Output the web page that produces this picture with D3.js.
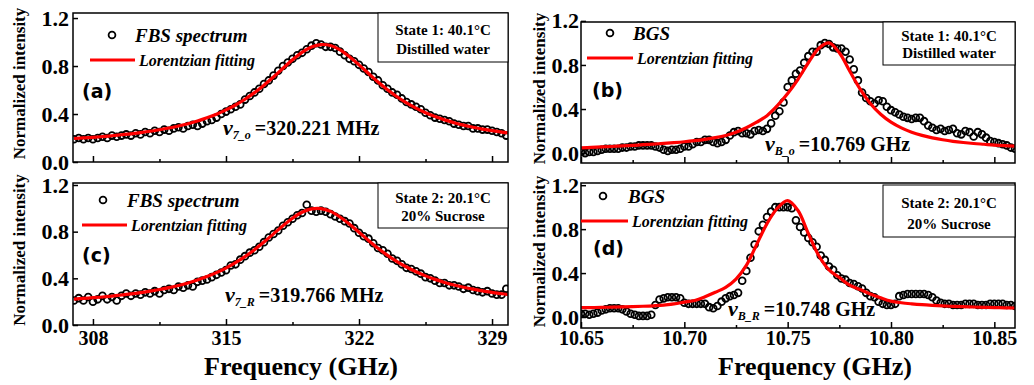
<!DOCTYPE html>
<html>
<head>
<meta charset="utf-8">
<script src="https://cdn.jsdelivr.net/npm/d3@7"></script>
<style>
  body { margin: 0; background: #fff; }
  svg text { font-family: "Liberation Serif", "Times New Roman", serif; font-weight: bold; fill: #000; }
  .tick line { stroke: #000; stroke-width: 1.5; }
</style>
</head>
<body>
<div id="chart"></div>
<script>
// ---- data ----
// FBS spectra: grid 307.00 .. 329.75 GHz, step 0.25
const fbsStart = 307, fbsStep = 0.25;
const fbsSpectrumA = [0.19,0.20,0.19,0.20,0.19,0.20,0.21,0.20,0.22,0.21,0.22,0.23,0.22,0.24,0.23,0.25,0.24,0.26,0.25,0.27,0.26,0.28,0.29,0.28,0.30,0.31,0.30,0.32,0.34,0.35,0.37,0.40,0.42,0.44,0.46,0.48,0.52,0.55,0.58,0.61,0.65,0.68,0.72,0.76,0.80,0.83,0.86,0.89,0.91,0.94,0.97,0.99,0.98,0.96,0.96,0.95,0.92,0.89,0.86,0.84,0.81,0.78,0.75,0.71,0.68,0.64,0.61,0.58,0.56,0.53,0.50,0.48,0.46,0.44,0.41,0.39,0.37,0.36,0.35,0.34,0.32,0.31,0.30,0.30,0.28,0.28,0.27,0.27,0.26,0.25,0.24,0.22];
const fbsSpectrumC = [0.21,0.23,0.21,0.24,0.20,0.22,0.25,0.22,0.24,0.21,0.25,0.27,0.25,0.27,0.26,0.28,0.27,0.29,0.27,0.30,0.31,0.30,0.33,0.32,0.34,0.33,0.37,0.38,0.39,0.41,0.43,0.45,0.47,0.51,0.52,0.56,0.59,0.62,0.64,0.67,0.71,0.75,0.78,0.81,0.85,0.88,0.91,0.94,0.96,1.03,0.98,0.97,0.98,0.97,0.95,0.93,0.91,0.89,0.87,0.83,0.79,0.76,0.74,0.70,0.66,0.64,0.61,0.57,0.55,0.52,0.49,0.48,0.46,0.44,0.41,0.40,0.38,0.36,0.36,0.34,0.34,0.33,0.31,0.32,0.30,0.29,0.28,0.29,0.27,0.26,0.26,0.31];
// Lorentzian fitting curves (FBS): 307 .. 330 GHz, step 0.5
const fbsFitStart = 307, fbsFitStep = 0.5;
const fbsFitA = [0.196,0.201,0.206,0.212,0.219,0.227,0.235,0.245,0.256,0.269,0.283,0.300,0.319,0.341,0.368,0.398,0.434,0.475,0.523,0.578,0.640,0.709,0.781,0.852,0.914,0.959,0.979,0.971,0.935,0.878,0.810,0.738,0.667,0.602,0.544,0.493,0.449,0.411,0.379,0.351,0.328,0.307,0.290,0.274,0.261,0.249,0.239];
const fbsFitC = [0.222,0.228,0.234,0.240,0.248,0.257,0.266,0.277,0.290,0.304,0.320,0.339,0.360,0.386,0.415,0.449,0.488,0.534,0.586,0.645,0.711,0.781,0.851,0.915,0.966,0.995,0.998,0.974,0.926,0.864,0.795,0.725,0.658,0.597,0.544,0.497,0.456,0.421,0.391,0.365,0.343,0.324,0.307,0.292,0.280,0.268,0.258];

// BGS spectra: grid 10.650 .. 10.860 GHz, step 0.002
const bgsStart = 10.65, bgsStep = 0.002;
const bgsSpectrumB = [0.01,0.00,0.01,0.01,0.02,0.03,0.04,0.04,0.04,0.04,0.05,0.05,0.06,0.06,0.07,0.07,0.07,0.07,0.06,0.05,0.03,0.02,0.03,0.03,0.04,0.06,0.06,0.08,0.10,0.10,0.12,0.12,0.10,0.09,0.10,0.12,0.16,0.19,0.20,0.18,0.18,0.17,0.20,0.21,0.20,0.22,0.27,0.34,0.38,0.46,0.60,0.66,0.72,0.75,0.82,0.88,0.92,0.92,0.98,1.00,0.99,0.96,0.95,0.95,0.92,0.85,0.76,0.66,0.55,0.50,0.47,0.45,0.48,0.47,0.42,0.39,0.37,0.35,0.33,0.32,0.31,0.32,0.32,0.29,0.25,0.23,0.21,0.22,0.20,0.21,0.22,0.18,0.17,0.20,0.19,0.15,0.19,0.17,0.14,0.11,0.10,0.09,0.08,0.07,0.05,0.04];
const bgsSpectrumD = [0.03,0.03,0.02,0.03,0.04,0.06,0.07,0.08,0.08,0.08,0.07,0.05,0.03,0.02,0.01,0.01,0.01,0.02,0.11,0.16,0.17,0.18,0.18,0.18,0.17,0.13,0.12,0.12,0.12,0.12,0.12,0.09,0.08,0.10,0.14,0.17,0.19,0.20,0.22,0.33,0.42,0.54,0.66,0.78,0.84,0.91,0.96,1.00,1.00,1.00,1.00,0.99,0.88,0.82,0.77,0.72,0.68,0.64,0.56,0.52,0.46,0.43,0.38,0.35,0.34,0.31,0.30,0.28,0.26,0.22,0.19,0.18,0.14,0.12,0.11,0.11,0.12,0.19,0.20,0.21,0.21,0.21,0.21,0.21,0.20,0.18,0.15,0.13,0.12,0.12,0.11,0.11,0.11,0.12,0.12,0.12,0.11,0.11,0.11,0.12,0.12,0.12,0.12,0.11,0.11,0.10];
// Lorentzian fitting curves (BGS): 10.650 .. 10.860 GHz, step 0.005
const bgsFitStart = 10.65, bgsFitStep = 0.005;
const bgsFitB = [0.048,0.052,0.056,0.060,0.065,0.070,0.076,0.082,0.088,0.095,0.103,0.113,0.125,0.140,0.160,0.190,0.230,0.280,0.340,0.430,0.540,0.670,0.820,0.950,1.000,0.910,0.745,0.583,0.451,0.353,0.281,0.229,0.190,0.161,0.138,0.121,0.107,0.096,0.087,0.080,0.073,0.068,0.064];
const bgsFitD = [0.085,0.086,0.088,0.090,0.092,0.095,0.098,0.102,0.108,0.120,0.135,0.150,0.185,0.225,0.270,0.345,0.470,0.660,0.850,0.990,1.060,0.970,0.760,0.560,0.430,0.360,0.290,0.250,0.210,0.175,0.145,0.130,0.120,0.112,0.106,0.101,0.097,0.094,0.091,0.088,0.086,0.084,0.082];

// ticks and labels
const fbsTicks = [308, 315, 322, 329];
const fbsMinorTicks = [311.5, 318.5, 325.5];
const bgsTicks = [10.65, 10.70, 10.75, 10.80, 10.85];
const bgsMinorTicks = [10.675, 10.725, 10.775, 10.825];
const yTicks = [0, 0.4, 0.8, 1.2];
const panelLetters = ["(a)", "(b)", "(c)", "(d)"];
const spectrumNames = ["FBS spectrum", "BGS", "FBS spectrum", "BGS"];
const fitNames = ["Lorentzian fitting", "Lorentzian fitting", "Lorentzian fitting", "Lorentzian  fitting"];
const stateLines = [["State 1: 40.1°C", "Distilled water"], ["State 1: 40.1°C", "Distilled water"],
                    ["State 2: 20.1°C", "20% Sucrose"], ["State 2: 20.1°C", "20% Sucrose"]];
const peakSubs = ["7_o", "B_o", "7_R", "B_R"];
const peakValues = ["=320.221 MHz", "=10.769 GHz", "=319.766 MHz", "=10.748 GHz"];
const yTitle = "Normalized intensity";
const xTitle = "Frequency (GHz)";

// ---- layout ----
const W = 1034, H = 385;
const svg = d3.select("#chart").append("svg").attr("width", W).attr("height", H);

const panels = [
  { k: 0, obs: fbsSpectrumA, fit: fbsFitA, fbs: true,  l: 73,  r: 508,  t: 13,  b: 162, yDom: [0, 1.242],
    yt: 25, legY: 35, letter: [82, 98], box: [378, 13, 130, 49], ann: [223, 135], showX: false },
  { k: 1, obs: bgsSpectrumB, fit: bgsFitB, fbs: false, l: 581, r: 1015, t: 22,  b: 163, yDom: [-0.09, 1.19],
    yt: 545, legY: 33, letter: [592, 97], box: [883, 22, 132, 43], ann: [765, 151], showX: false },
  { k: 2, obs: fbsSpectrumC, fit: fbsFitC, fbs: true,  l: 73,  r: 508,  t: 183, b: 325, yDom: [0, 1.217],
    yt: 25, legY: 200, letter: [82, 262], box: [378, 183, 130, 45], ann: [225, 302], showX: true, pad: 6, xtx: 301 },
  { k: 3, obs: bgsSpectrumD, fit: bgsFitD, fbs: false, l: 581, r: 1015, t: 183, b: 328, yDom: [-0.1, 1.22],
    yt: 545, legY: 196, letter: [593, 255], box: [883, 185, 132, 52], ann: [728, 316], showX: true, pad: 3, xtx: 815 }
];

const legendX = [[112, 90, 135], [610, 587, 633], [103, 82, 127], [603, 581, 628]];

panels.forEach(p => {
  const g = svg.append("g");
  const x = d3.scaleLinear()
    .domain(p.fbs ? [306.95, 329.84] : [10.65, 10.86])
    .range([p.l, p.r]);
  const y = d3.scaleLinear().domain(p.yDom).range([p.b, p.t]);

  const clipId = "clip" + p.k;
  svg.append("clipPath").attr("id", clipId)
    .append("rect").attr("x", p.l).attr("y", p.t).attr("width", p.r - p.l).attr("height", p.b - p.t);

  const start = p.fbs ? fbsStart : bgsStart, step = p.fbs ? fbsStep : bgsStep;
  const pts = p.obs.map((v, i) => ({ f: start + i * step, v: v }));
  const fStart = p.fbs ? fbsFitStart : bgsFitStart, fStep = p.fbs ? fbsFitStep : bgsFitStep;
  const fitPts = p.fit.map((v, i) => ({ f: fStart + i * fStep, v: v }));

  const plot = g.append("g").attr("clip-path", "url(#" + clipId + ")");
  plot.selectAll("circle.obs")
    .data(pts)
    .enter().append("circle")
    .attr("class", "obs")
    .attr("cx", d => x(d.f))
    .attr("cy", d => y(d.v))
    .attr("r", 3.4)
    .attr("fill", "none")
    .attr("stroke", "#000")
    .attr("stroke-width", 1.8);

  const line = d3.line().x(d => x(d.f)).y(d => y(d.v)).curve(d3.curveCatmullRom);
  plot.append("path")
    .datum(fitPts)
    .attr("d", line)
    .attr("fill", "none")
    .attr("stroke", "#ff0000")
    .attr("stroke-width", 3.2);

  // axes (ticks inward)
  const major = p.fbs ? fbsTicks : bgsTicks;
  const minor = p.fbs ? fbsMinorTicks : bgsMinorTicks;
  const xAxis = d3.axisBottom(x).tickValues(major).tickSize(-6)
    .tickPadding(p.pad || 0)
    .tickFormat(p.showX ? (p.fbs ? d3.format("d") : d3.format(".2f")) : "");
  const xa = g.append("g").attr("transform", "translate(0," + p.b + ")").call(xAxis);
  xa.select(".domain").remove();
  xa.selectAll("text").attr("font-size", 20).style("font-family", '"Liberation Serif", serif');

  const xm = g.append("g").attr("transform", "translate(0," + p.b + ")")
    .call(d3.axisBottom(x).tickValues(minor).tickSize(-3).tickFormat(""));
  xm.select(".domain").remove();

  const yAxis = d3.axisLeft(y).tickValues(yTicks).tickSize(-5)
    .tickPadding(p.fbs ? 4 : 2).tickFormat(d3.format(".1f"));
  const ya = g.append("g").attr("transform", "translate(" + p.l + ",0)").call(yAxis);
  ya.select(".domain").remove();
  ya.selectAll("text").attr("font-size", 22).style("font-family", '"Liberation Serif", serif');

  // frame
  g.append("rect")
    .attr("x", p.l).attr("y", p.t)
    .attr("width", p.r - p.l).attr("height", p.b - p.t)
    .attr("fill", "none").attr("stroke", "#000").attr("stroke-width", 1.5);

  // y title
  g.append("text")
    .attr("transform", "translate(" + p.yt + "," + ((p.t + p.b) / 2 - 4) + ") rotate(-90)")
    .attr("text-anchor", "middle")
    .attr("font-size", 17)
    .text(yTitle);

  // legend
  const lx = legendX[p.k];
  g.append("circle").attr("cx", lx[0]).attr("cy", p.legY).attr("r", 3.4)
    .attr("fill", "none").attr("stroke", "#000").attr("stroke-width", 1.8);
  g.append("text").attr("x", lx[2]).attr("y", p.legY + 7)
    .attr("font-size", 19).attr("font-style", "italic").text(spectrumNames[p.k]);
  g.append("line").attr("x1", lx[1]).attr("x2", lx[2]).attr("y1", p.legY + 25).attr("y2", p.legY + 25)
    .attr("stroke", "#ff0000").attr("stroke-width", 3.2);
  g.append("text").attr("x", lx[2] + 4).attr("y", p.legY + 31)
    .attr("font-size", 16).attr("font-style", "italic").text(fitNames[p.k]);

  // panel letter
  g.append("text").attr("x", p.letter[0]).attr("y", p.letter[1])
    .attr("font-size", 19)
    .style("font-family", '"DejaVu Sans", sans-serif')
    .text(panelLetters[p.k]);

  // state box
  const bx = p.box;
  g.append("rect").attr("x", bx[0]).attr("y", bx[1]).attr("width", bx[2]).attr("height", bx[3])
    .attr("fill", "#fff").attr("stroke", "#000").attr("stroke-width", 1);
  stateLines[p.k].forEach((s, i) => {
    g.append("text")
      .attr("x", bx[0] + bx[2] / 2)
      .attr("y", bx[1] + bx[3] * (i === 0 ? 0.44 : 0.84))
      .attr("text-anchor", "middle")
      .attr("font-size", 15)
      .text(s);
  });

  // peak annotation
  const ann = g.append("text").attr("x", p.ann[0]).attr("y", p.ann[1]).attr("font-size", 20);
  ann.append("tspan").attr("font-style", "italic").attr("font-size", 22).text("ν");
  ann.append("tspan").attr("font-style", "italic").attr("font-size", 12).attr("dy", 4).text(peakSubs[p.k]);
  ann.append("tspan").attr("dy", -4).attr("dx", 4).text(peakValues[p.k]);

  // x title
  if (p.showX) {
    g.append("text").attr("x", p.xtx).attr("y", 375)
      .attr("text-anchor", "middle").attr("font-size", 26)
      .text(xTitle);
  }
});
</script>
</body>
</html>
